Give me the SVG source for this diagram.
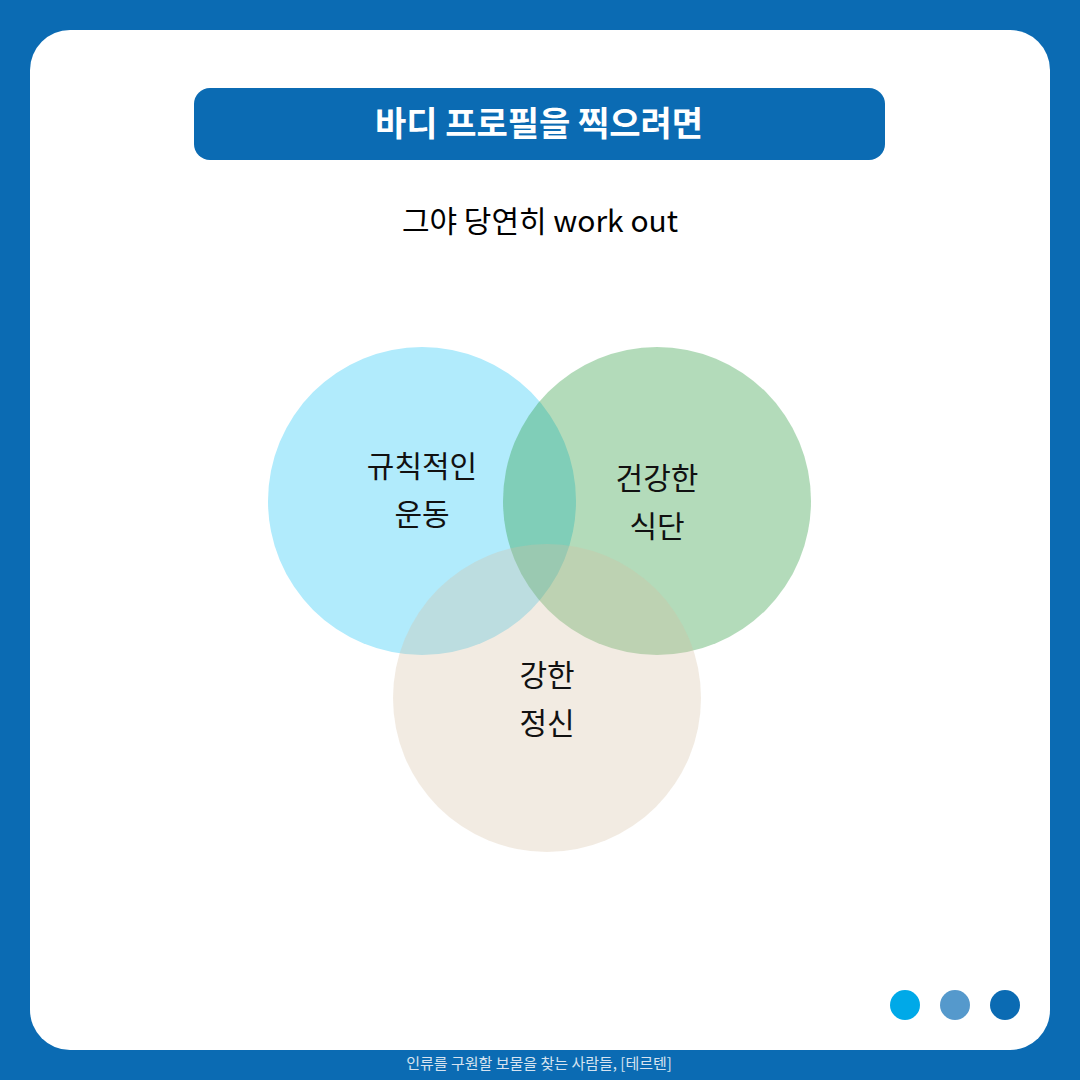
<svg xmlns="http://www.w3.org/2000/svg" width="1080" height="1080" viewBox="0 0 1080 1080">
<style>
text{font-family:"Noto Sans CJK KR","Noto Sans",sans-serif;text-anchor:middle}
.lbl{font-size:30px;fill:#111}
</style>
<rect x="0" y="0" width="1080" height="1080" fill="#0b6bb3"/>
<rect x="30" y="30" width="1020" height="1020" rx="40" fill="#ffffff"/>
<g id="title">
<rect x="194" y="88" width="691" height="72" rx="16" fill="#0b6bb3"/>
<text x="539" y="136" font-size="34" font-weight="700" fill="#ffffff">바디 프로필을 찍으려면</text>
</g>
<g id="subtitle"><text x="540" y="232" font-size="30" fill="#000">그야 당연히 work out</text></g>
<g id="connectors"></g>
<g id="node-exercise">
<circle cx="422" cy="501" r="154" fill="#b1ebfc"/>
</g>
<g id="node-diet">
<circle cx="657" cy="501" r="154" fill="#239737" fill-opacity="0.346"/>
</g>
<g id="node-mind">
<circle cx="547" cy="698" r="154" fill="#d5bea1" fill-opacity="0.31"/>
</g>
<g id="labels">
<text class="lbl" x="422" y="477">규칙적인</text>
<text class="lbl" x="422" y="525">운동</text>
<text class="lbl" x="657" y="489">건강한</text>
<text class="lbl" x="657" y="537">식단</text>
<text class="lbl" x="547" y="686">강한</text>
<text class="lbl" x="547" y="734">정신</text>
</g>
<g id="dots">
<circle cx="905" cy="1005" r="15" fill="#00a9e8"/>
<circle cx="955" cy="1005" r="15" fill="#5599cc"/>
<circle cx="1005" cy="1005" r="15" fill="#0b6bb3"/>
</g>
<text x="539" y="1069" font-size="15" fill="#d6e3f0">인류를 구원할 보물을 찾는 사람들, [테르텐]</text>
</svg>
